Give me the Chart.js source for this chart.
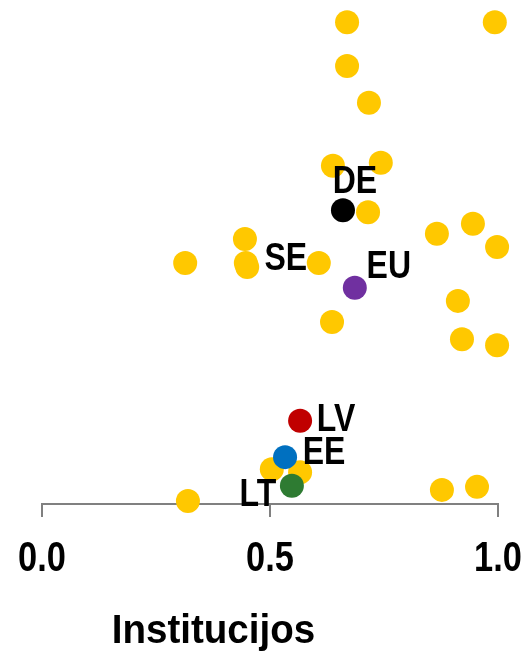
<!DOCTYPE html>
<html lang="en">
<head>
    <meta charset="UTF-8" />
    <title>Institucijos</title>
    <style>
        html, body { margin: 0; padding: 0; background: #fff; }
        #wrap { width: 522px; height: 657px; }
    </style>
</head>
<body>
    <div id="wrap"><canvas id="chart"></canvas></div>

    <script src="https://cdn.jsdelivr.net/npm/chart.js"></script>
    <script>
        // other countries (yellow dots)
        const otherX = [0.669, 0.993, 0.669, 0.717, 0.638, 0.743, 0.715, 0.445, 0.314, 0.450,
                        0.607, 0.866, 0.945, 0.998, 0.912, 0.636, 0.921, 0.998, 0.504, 0.566,
                        0.320, 0.877, 0.954];
        const otherY = [95.6, 95.6, 86.9, 79.6, 67.1, 67.7, 57.9, 52.6, 47.8, 47.0,
                        47.8, 53.6, 55.6, 51.0, 40.3, 36.1, 32.7, 31.5, 6.9, 6.3,
                        0.6, 2.8, 3.4];

        // labelled countries
        const countryNames = ['SE', 'DE', 'EU', 'LV', 'EE', 'LT'];
        const countryX = [0.447, 0.660, 0.686, 0.566, 0.533, 0.548];
        const countryY = [47.8, 58.3, 42.9, 16.5, 9.3, 3.6];
        const countryColors = ['#FFC800', '#000000', '#7030A0', '#C00000', '#0070C0', '#2E7B32'];

        const xTicks = [0, 0.5, 1];
        const xTitle = 'Institucijos';

        // label centre relative to its dot
        const labelOffsets = [[40, -7], [12, -31], [34, -24], [36, -4], [39, -7], [-34, 6]];

        const FONT = "'Liberation Sans', Arial, sans-serif";
        const YELLOW = '#FFC800';
        const AXIS = '#808080';
        const CAP = 0.716; // cap height / em

        // bold text squeezed horizontally, centred on (x, yMid of caps)
        function drawText(ctx, text, x, yMid, size, sx) {
            ctx.save();
            ctx.font = 'bold ' + size + 'px ' + FONT;
            ctx.fillStyle = '#000';
            ctx.textAlign = 'center';
            ctx.textBaseline = 'alphabetic';
            ctx.translate(x, yMid + size * CAP / 2);
            ctx.scale(sx, 1);
            ctx.fillText(text, 0, 0);
            ctx.restore();
        }

        const textPlugin = {
            id: 'textLayer',
            afterDatasetsDraw(chart) {
                const ctx = chart.ctx;
                const area = chart.chartArea;
                const xs = chart.scales.x;

                // country labels
                chart.getDatasetMeta(1).data.forEach((pt, i) => {
                    const off = labelOffsets[i];
                    drawText(ctx, countryNames[i], pt.x + off[0], pt.y + off[1], 39, 0.82);
                });

                // tick labels
                xTicks.forEach(v => {
                    drawText(ctx, v.toFixed(1), xs.getPixelForValue(v), area.bottom + 52, 43, 0.8);
                });

                // axis title
                drawText(ctx, xTitle, area.left + area.width * 0.376, area.bottom + 124, 41, 0.94);
            }
        };

        new Chart(document.getElementById('chart'), {
            type: 'scatter',
            data: {
                datasets: [
                    {
                        data: otherX.map((x, i) => ({ x: x, y: otherY[i] })),
                        backgroundColor: YELLOW,
                        pointRadius: 12,
                        pointHoverRadius: 12,
                        borderWidth: 0,
                        clip: false,
                        order: 1
                    },
                    {
                        data: countryX.map((x, i) => ({ x: x, y: countryY[i] })),
                        backgroundColor: countryColors,
                        pointRadius: 12,
                        pointHoverRadius: 12,
                        borderWidth: 0,
                        clip: false,
                        order: 0
                    }
                ]
            },
            options: {
                responsive: true,
                maintainAspectRatio: false,
                animation: false,
                events: [],
                layout: { autoPadding: false, padding: { left: 42, right: 24, top: 0, bottom: 140 } },
                plugins: {
                    legend: { display: false },
                    tooltip: { enabled: false }
                },
                scales: {
                    x: {
                        type: 'linear',
                        min: 0,
                        max: 1,
                        afterBuildTicks: s => { s.ticks = xTicks.map(v => ({ value: v })); },
                        afterFit: s => { s.paddingLeft = 0; s.paddingRight = 0; },
                        border: { display: true, color: AXIS, width: 2 },
                        grid: {
                            drawOnChartArea: false,
                            drawTicks: true,
                            tickLength: 13,
                            color: AXIS,
                            lineWidth: 2
                        },
                        ticks: { display: false }
                    },
                    y: {
                        type: 'linear',
                        min: 0,
                        max: 100,
                        display: false
                    }
                }
            },
            plugins: [textPlugin]
        });
    </script>
</body>
</html>
